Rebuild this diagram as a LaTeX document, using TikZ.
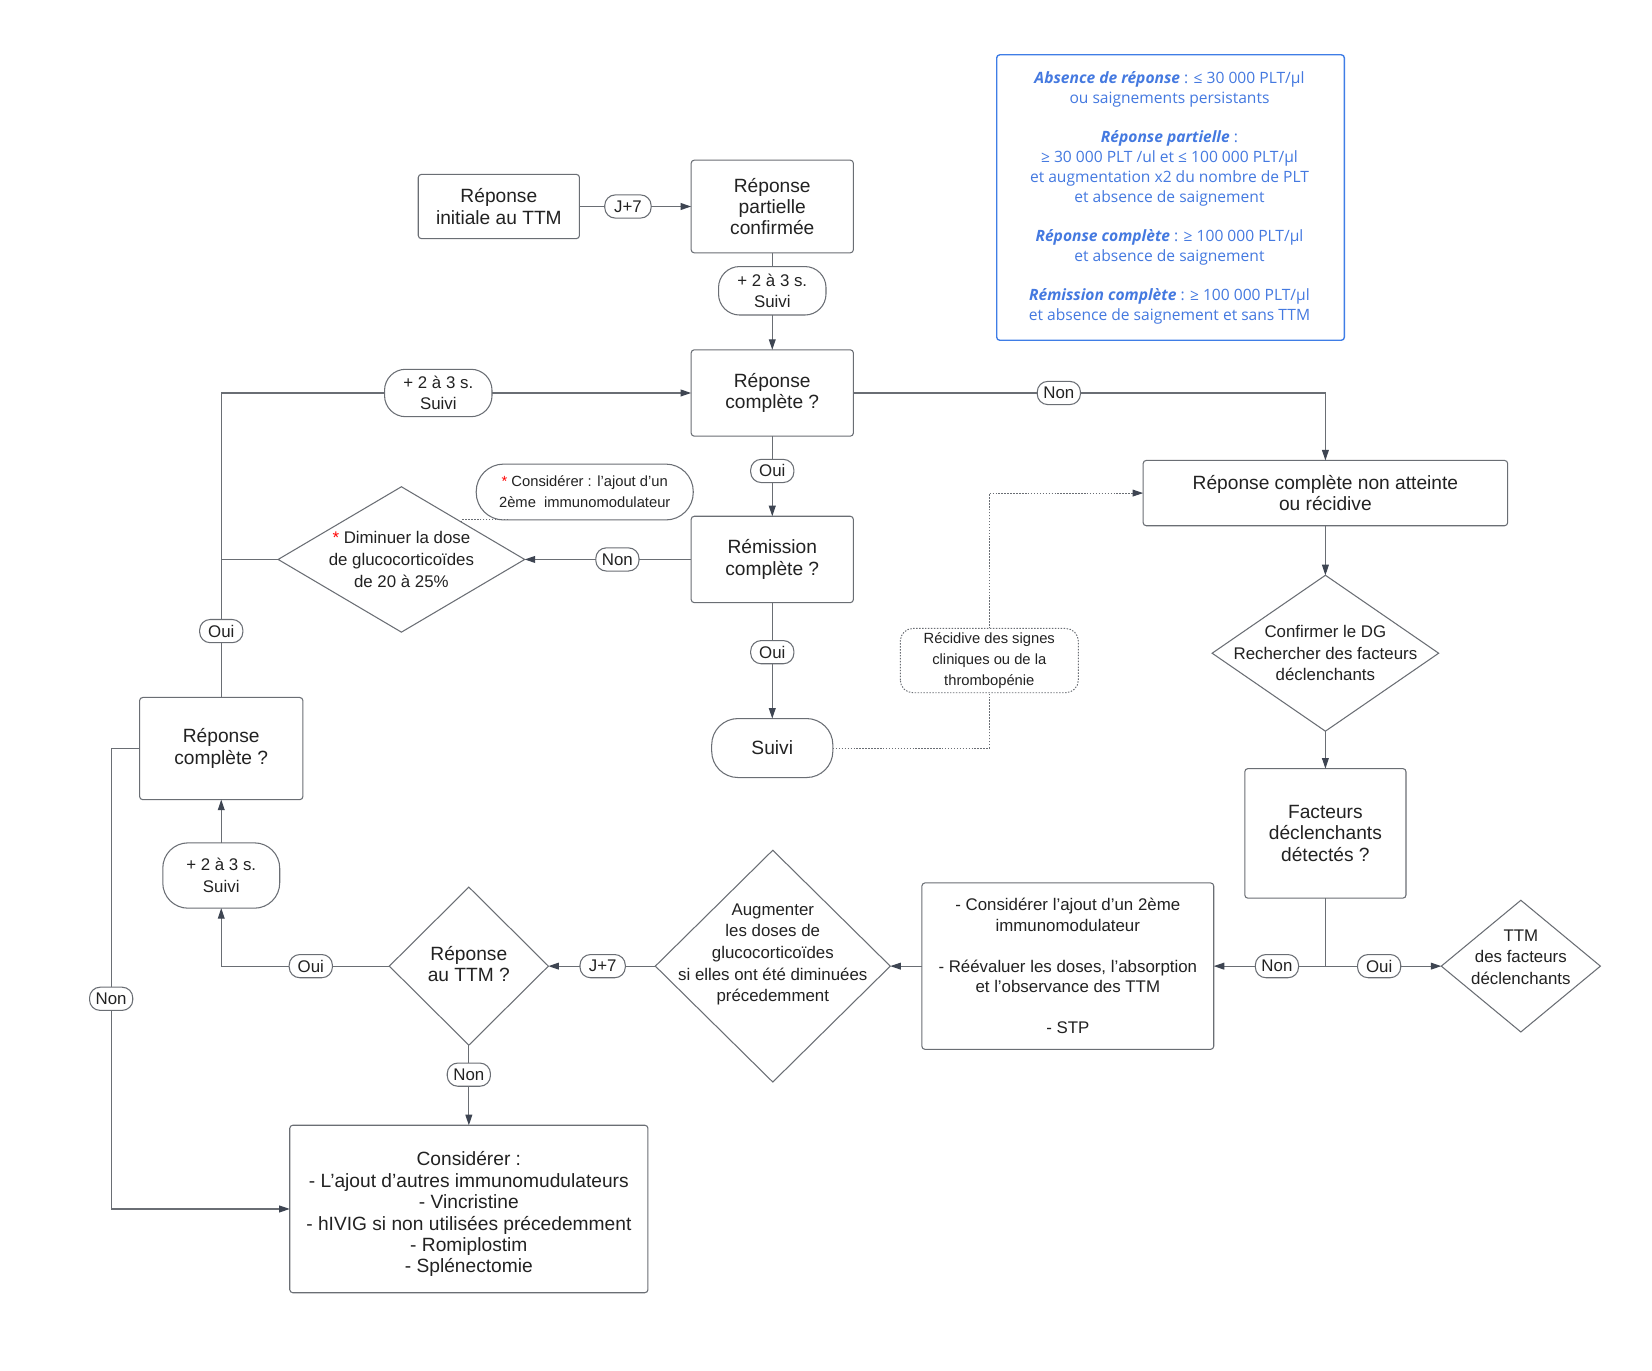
\documentclass[tikz,border=0pt]{standalone}
\usepackage{fontspec}
\setmainfont{Liberation Sans}
\newfontfamily\mylegfont{Open Sans}
\usetikzlibrary{arrows.meta,shapes.geometric,calc}
\definecolor{ln}{HTML}{6A6E74}
\definecolor{tipc}{HTML}{3E4552}
\definecolor{maintext}{HTML}{222222}
\definecolor{legblue}{HTML}{4479E0}
\definecolor{legborder}{HTML}{3F7DE6}
\newcommand\myfbig{\fontsize{18.2}{20.3}\selectfont}
\newcommand\myfsmall{\fontsize{16}{20.5}\selectfont}
\newcommand\myfnote{\fontsize{14}{20}\selectfont}
\begin{document}
\begin{tikzpicture}[x=1pt,y=-1pt,
  every node/.style={outer sep=0pt, inner sep=0pt, text=maintext},
  box/.style={draw=ln, line width=1pt, rounded corners=3pt, align=center, font=\myfbig, fill=white},
  pill/.style={draw=ln, line width=1pt, align=center, font=\myfsmall, fill=white},
  lab/.style={pill, rounded corners=10pt, minimum height=22pt, minimum width=41pt, inner xsep=4pt},
  diam/.style={draw=ln, line width=1pt, shape=diamond, inner sep=0pt},
  dtext/.style={align=center, font=\myfsmall},
  con/.style={draw=ln, line width=1pt},
  arr/.style={con, -{Triangle[length=10pt,width=6.5pt,fill=tipc,color=tipc]}},
  dot/.style={draw=ln, line width=0.9pt, dash pattern=on 1.4pt off 1.4pt},
]
\path[use as bounding box, fill=white] (0,0) rectangle (1568,1300.4);

% legend
\node[draw=legborder, line width=1.3pt, rounded corners=3pt, minimum width=330pt, minimum height=271pt] (leg) at (1111,187.5) {};
\node[align=center, text=legblue, font=\mylegfont\fontsize{14.8}{19}\selectfont] (legt) at (1110,188) {%
{\bfseries\itshape Absence de réponse} : ≤ 30 000 PLT/µl\\
ou saignements persistants\\[18pt]
{\bfseries\itshape Réponse partielle} :\\
≥ 30 000 PLT /ul et ≤ 100 000 PLT/µl\\
et augmentation x2 du nombre de PLT\\
et absence de saignement\\[18pt]
{\bfseries\itshape Réponse complète} : ≥ 100 000 PLT/µl\\
et absence de saignement\\[18pt]
{\bfseries\itshape Rémission complète} : ≥ 100 000 PLT/µl\\
et absence de saignement et sans TTM};

% top part
\node[box, minimum width=153pt, minimum height=61pt] (ini) at (473.5,196) {Réponse\\initiale au TTM};
\node[lab, minimum width=44pt] (j7a) at (596,196) {J+7};
\node[box, minimum width=154pt, minimum height=88pt] (part) at (733,196) {Réponse\\partielle\\confirmée};
\node[pill, rounded corners=20pt, minimum width=102pt, minimum height=46pt] (s1) at (733,276) {+ 2 à 3 s.\\Suivi};
\node[box, minimum width=154pt, minimum height=82pt] (rc1) at (733,373) {Réponse\\complète ?};
\node[pill, rounded corners=20pt, minimum width=102pt, minimum height=45pt] (s2) at (416,373) {+ 2 à 3 s.\\Suivi};
\node[lab] (non1) at (1005,373) {Non};
\node[lab] (oui1) at (733,447) {Oui};
\node[box, minimum width=346pt, minimum height=62pt] (nonatt) at (1258,468) {Réponse complète non atteinte\\ou récidive};
\node[pill, font=\myfnote, rounded corners=26pt, minimum width=206pt, minimum height=53pt] (cpill) at (555,467) {{\color{red}*} Considérer : l’ajout d’un\\2ème\ \ immunomodulateur};
\node[diam, minimum width=234pt, minimum height=138pt] (dimin) at (381,531) {};
\node[dtext] (dimint) at (381,531) {{\color{red}*} Diminuer la dose\\de glucocorticoïdes\\de 20 à 25\%};
\node[lab] (non2) at (586,531) {Non};
\node[box, minimum width=154pt, minimum height=82pt] (rem) at (733,531) {Rémission\\complète ?};
\node[lab] (oui2) at (733,619) {Oui};
\node[pill, font=\myfbig, rounded corners=25pt, minimum width=115pt, minimum height=56pt] (suivi) at (733,710) {Suivi};
\node[pill, font=\myfnote, draw=none, minimum width=169pt, minimum height=61pt] (recid) at (939,627) {Récidive des signes\\cliniques ou de la\\thrombopénie};
\draw[dot, rounded corners=12pt] (recid.south west) rectangle (recid.north east);

% right part
\node[diam, minimum width=215pt, minimum height=148pt] (conf) at (1258,620) {};
\node[dtext] (conft) at (1258,620) {Confirmer le DG\\Rechercher des facteurs\\déclenchants};
\node[box, minimum width=153pt, minimum height=123pt] (fact) at (1258,791) {Facteurs\\déclenchants\\détectés ?};
\node[lab] (non5) at (1212,917) {Non};
\node[lab] (oui5) at (1309,917) {Oui};
\node[diam, minimum width=151pt, minimum height=125pt] (ttm) at (1443.5,917) {};
\node[dtext] (ttmt) at (1443.5,908.5) {TTM\\des facteurs\\déclenchants};
\node[box, font=\fontsize{16}{19.5}\selectfont, minimum width=277pt, minimum height=158pt] (reev) at (1013.5,917) {- Considérer l'ajout d’un 2ème\\immunomodulateur\\[19.5pt]- Réévaluer les doses, l’absorption\\et l'observance des TTM\\[19.5pt]- STP};

% bottom part
\node[diam, minimum width=223pt, minimum height=220pt] (aug) at (733.5,917) {};
\node[dtext] (augt) at (733.5,906) {Augmenter\\les doses de\\glucocorticoïdes\\si elles ont été diminuées\\précedemment};
\node[lab, minimum width=43pt] (j7b) at (572,917) {J+7};
\node[diam, minimum width=151pt, minimum height=150pt] (rtm) at (445,917) {};
\node[dtext, font=\myfbig] (rtmt) at (445,915) {Réponse\\au TTM ?};
\node[lab] (oui4) at (295,917) {Oui};
\node[pill, rounded corners=24pt, minimum width=111pt, minimum height=62pt] (s3) at (210,831) {+ 2 à 3 s.\\Suivi};
\node[box, minimum width=155pt, minimum height=97pt] (rcg) at (210,710.5) {Réponse\\complète ?};
\node[lab] (oui3) at (210,599) {Oui};
\node[lab] (non4) at (105.5,948) {Non};
\node[lab] (non6) at (445,1020) {Non};
\node[box, minimum width=340pt, minimum height=159pt] (consid) at (445,1147.5) {};
\node[align=center, font=\myfbig] (considt) at (445,1152.5) {Considérer :\\- L’ajout d’autres immunomudulateurs\\- Vincristine\\- hIVIG si non utilisées précedemment\\- Romiplostim\\- Splénectomie};

% connectors
\draw[con] (ini) -- (j7a);
\draw[arr] (j7a) -- (part);
\draw[con] (part) -- (s1);
\draw[arr] (s1) -- (rc1);
\draw[con] (rc1) -- (non1);
\draw[arr] (non1.east) -| (nonatt.north);
\draw[con] (rc1) -- (oui1);
\draw[arr] (oui1) -- (rem);
\draw[con] (rem) -- (non2);
\draw[arr] (non2) -- (dimin);
\draw[con] (rem) -- (oui2);
\draw[arr] (oui2) -- (suivi);
\draw[arr] (nonatt) -- (conf);
\draw[arr] (conf) -- (fact);
\draw[con] (fact.south) |- (non5.east);
\draw[arr] (non5) -- (reev);
\draw[con] (fact.south) |- (oui5.west);
\draw[arr] (oui5) -- (ttm);
\draw[arr] (reev) -- (aug);
\draw[con] (aug) -- (j7b);
\draw[arr] (j7b) -- (rtm);
\draw[con] (rtm) -- (non6);
\draw[arr] (non6) -- (consid);
\draw[con] (rtm) -- (oui4);
\draw[arr] (oui4.west) -| (s3.south);
\draw[arr] (s3) -- (rcg);
\draw[con] (rcg) -- (oui3);
\draw[con] (oui3.north) |- (s2.west);
\draw[arr] (s2) -- (rc1);
\draw[con] (dimin.west) -- (dimin.west -| oui3.north);
\draw[con] (rcg.west) -| (non4.north);
\draw[arr] (non4.south) |- (consid.west);
\draw[dot] (suivi.east) -| (recid.south);
\draw[dot, -{Triangle[length=10pt,width=6.5pt,fill=tipc,color=tipc]}] (recid.north) |- (nonatt.west);
\draw[dot] (cpill.200) -| ($(dimin.north)!0.487!(dimin.east)$);
\end{tikzpicture}
\end{document}
